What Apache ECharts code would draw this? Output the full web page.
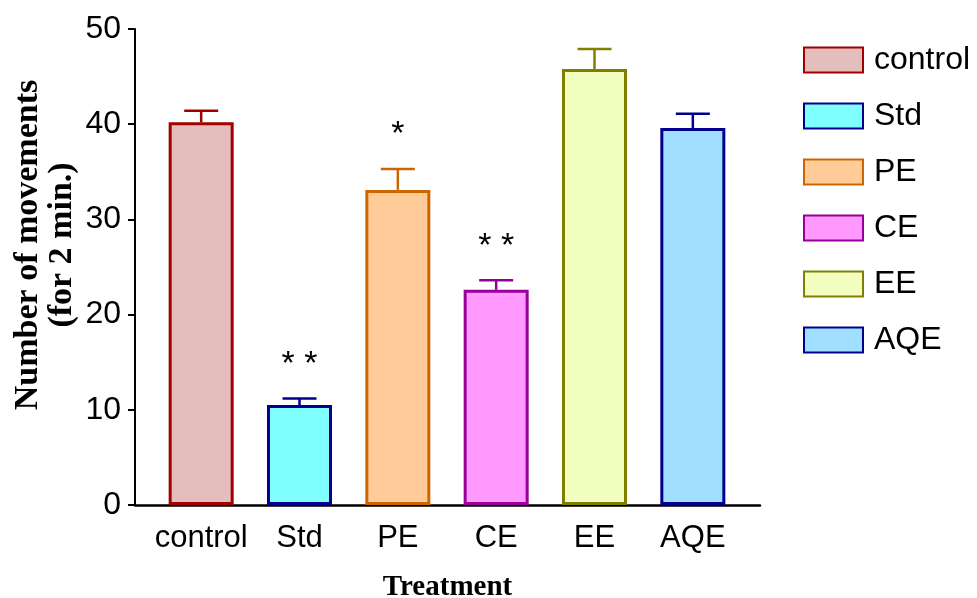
<!DOCTYPE html>
<html><head><meta charset="utf-8">
<script src="https://cdn.jsdelivr.net/npm/echarts@6/dist/echarts.min.js"></script>
<style>html,body{margin:0;padding:0;background:#fff}#c{width:977px;height:598px}</style>
</head><body><div id="c"></div>
<script>
const categories = ['control','Std','PE','CE','EE','AQE'];
const means = [40.2, 10.5, 33.1, 22.6, 45.8, 39.6];
const errors = [1.2, 0.7, 2.2, 1.0, 2.1, 1.5];
const sigLabels = ['', '* *', '*', '* *', '', ''];
const fillColors = ['#E4BDBD','#80FFFF','#FFCC99','#FF99FF','#F2FFC0','#A0DFFF'];
const borderColors = ['#A00000','#00008C','#CC6600','#990099','#808000','#00008C'];
const yTicks = [0,10,20,30,40,50];

const chart = echarts.init(document.getElementById('c'));
const barSeries = categories.map((name, i) => ({
  name: name,
  type: 'bar',
  xAxisIndex: 1, yAxisIndex: 1,
  barWidth: 65,
  barGap: '-100%',
  data: categories.map((c, j) => j === i ? means[j] : '-'),
  itemStyle: { color: fillColors[i], borderColor: borderColors[i], borderWidth: 3 },
  emphasis: { disabled: true },
  z: 2
}));

const errSeries = {
  type: 'custom',
  xAxisIndex: 1, yAxisIndex: 1,
  data: categories.map((c, i) => [i, means[i], means[i] + errors[i]]),
  renderItem: function (params, api) {
    const i = api.value(0);
    const p0 = api.coord([i, api.value(1)]);
    const p1 = api.coord([i, api.value(2)]);
    const col = borderColors[i];
    const children = [
      { type: 'line', shape: { x1: p0[0], y1: p0[1], x2: p1[0], y2: p1[1] }, style: { stroke: col, lineWidth: 2.5 } },
      { type: 'line', shape: { x1: p1[0] - 17, y1: p1[1], x2: p1[0] + 17, y2: p1[1] }, style: { stroke: col, lineWidth: 2.5 } }
    ];
    if (sigLabels[i]) {
      children.push({ type: 'text', style: { text: sigLabels[i], x: p1[0], y: p1[1] - 34, align: 'center', verticalAlign: 'middle', font: '34px "Liberation Sans"', fill: '#000' } });
    }
    return { type: 'group', children: children };
  },
  z: 3,
  silent: true
};

chart.setOption({
  animation: false,
  backgroundColor: '#fff',
  grid: [
    { left: 135, width: 625, top: 29, height: 476, containLabel: false, outerBoundsMode: 'none' },
    { left: 152, width: 590, top: 29, height: 476, containLabel: false, outerBoundsMode: 'none' }
  ],
  legend: {
    orient: 'vertical',
    left: 803, top: 44,
    padding: 0,
    icon: 'rect',
    itemWidth: 59, itemHeight: 25,
    itemGap: 24,
    data: categories,
    textStyle: { fontFamily: 'Liberation Sans', fontSize: 32, color: '#000', lineHeight: 25, padding: [0,0,0,6] },
    selectedMode: false
  },
  xAxis: [
    { type: 'category', gridIndex: 0, data: [''],
      axisLine: { show: true, lineStyle: { color: '#000', width: 2.5 } },
      axisTick: { show: false }, axisLabel: { show: false },
      name: 'Treatment', nameLocation: 'middle', nameGap: 68,
      nameTextStyle: { fontFamily: 'Liberation Serif', fontWeight: 'bold', fontSize: 29, color: '#000' } },
    { type: 'category', gridIndex: 1, data: categories,
      axisLine: { show: false }, axisTick: { show: false },
      axisLabel: { interval: 0, fontFamily: 'Liberation Sans', fontSize: 31, color: '#000', margin: 18 } }
  ],
  yAxis: [
    { type: 'value', gridIndex: 0, min: yTicks[0], max: yTicks[yTicks.length-1], interval: 10,
      splitLine: { show: false },
      axisLine: { show: true, lineStyle: { color: '#000', width: 2 } },
      axisTick: { show: true, length: 7, lineStyle: { color: '#000', width: 2 } },
      axisLabel: { fontFamily: 'Liberation Sans', fontSize: 32, color: '#000', margin: 14 },
      name: 'Number of movements\n(for 2 min.)', nameLocation: 'middle', nameGap: 56, nameRotate: 90,
      nameMoveOverlap: false,
      nameTextStyle: { fontFamily: 'Liberation Serif', fontWeight: 'bold', fontSize: 34, color: '#000', lineHeight: 34, padding: [0,0,0,44] } },
    { type: 'value', gridIndex: 1, min: 0, max: 50, show: false, splitLine: { show: false } }
  ],
  series: barSeries.concat([errSeries])
});
</script></body></html>
